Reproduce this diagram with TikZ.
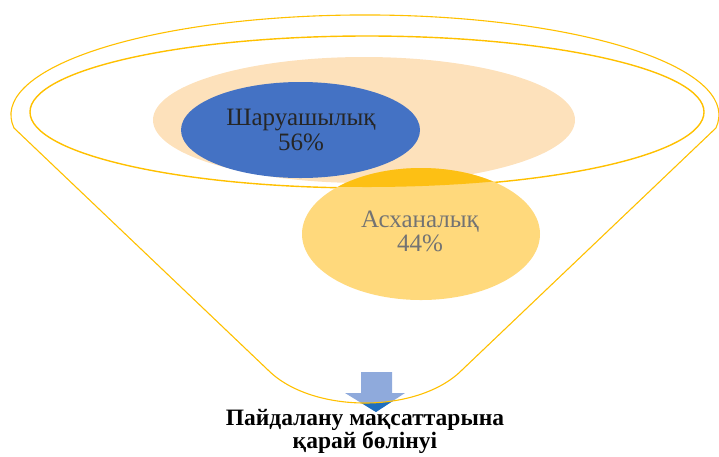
\documentclass[tikz,border=0pt]{standalone}
\usepackage{fontspec}
\setmainfont{Liberation Serif}
\definecolor{rimgold}{RGB}{255,192,0}
\definecolor{peach}{RGB}{253,225,187}
\definecolor{farmblue}{RGB}{68,114,196}
\definecolor{kitchenyellow}{RGB}{255,217,124}
\definecolor{deepgold}{RGB}{253,192,20}
\definecolor{arrowlight}{RGB}{143,170,220}
\definecolor{arrowdark}{RGB}{30,110,190}
\tikzset{
  rim/.style={draw=rimgold, line width=1.4pt},
  lbl/.style={inner sep=0pt, font=\fontsize{25}{28}\selectfont},
  caption/.style={inner sep=0pt, font=\fontsize{23.5}{26}\selectfont\bfseries},
}
\begin{document}
\begin{tikzpicture}[x=1pt, y=1pt]
        \useasboundingbox (0,0) rectangle (719,-456);

        % Funnel corners and bottom
        \coordinate (lt) at (14,-128);
        \coordinate (lb) at (268,-370);
        \coordinate (rb) at (462,-370);

        % Light blue arrow, dark below the funnel
        \fill[arrowlight] (361,-372) -- (392,-372) -- (392,-393) -- (405,-393)
            -- (376,-412) -- (345,-393) -- (361,-393) -- cycle;
        \begin{scope}
            \clip (lb) .. controls (312,-414) and (418,-414) .. (rb)
                -- (462,-456) -- (268,-456) -- cycle;
            \fill[arrowdark] (361,-372) -- (392,-372) -- (392,-393) -- (405,-393)
                -- (376,-412) -- (345,-393) -- (361,-393) -- cycle;
        \end{scope}

        % Funnel outline
        \draw[rim, line width=1.1pt, line join=round] (lt) arc[start angle=187.5,
            end angle=-7.5, x radius=354, y radius=100] -- (rb)
            .. controls (418,-414) and (312,-414) .. (lb) -- cycle;

        % Rim
        \draw[rim] (367,-112) ellipse[x radius=337, y radius=76];

        % Background ellipse
        \fill[peach] (364,-120) ellipse[x radius=211, y radius=63];

        % Kitchen 44%
        \fill[kitchenyellow] (421,-234) ellipse[x radius=119, y radius=66];
        \begin{scope}
            \clip (367,-112) ellipse[x radius=337, y radius=75];
            \fill[deepgold] (421,-234) ellipse[x radius=119, y radius=66];
        \end{scope}

        % Farm 56%
        \fill[farmblue] (300.5,-130) ellipse[x radius=119.5, y radius=48];

        \node[lbl, anchor=base, text=black!85] (farm) at (301,-125) {Шаруашылық};
        \node[lbl, anchor=base, text=black!85] (farmpct) at (301,-150) {56\%};
        \node[lbl, anchor=base, text=black!55] (kitchen) at (420,-227) {Асханалық};
        \node[lbl, anchor=base, text=black!55] (kitchenpct) at (420,-251) {44\%};

        % Caption
        \node[caption, anchor=base] (cap1) at (365,-425) {Пайдалану мақсаттарына};
        \node[caption, anchor=base] (cap2) at (365,-448) {қарай бөлінуі};
    \end{tikzpicture}
\end{document}
